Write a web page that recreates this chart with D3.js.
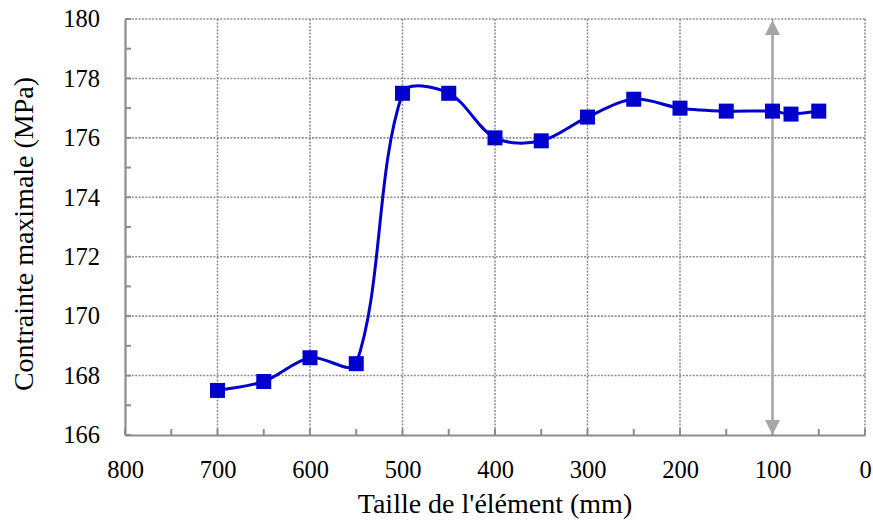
<!DOCTYPE html>
<html><head><meta charset="utf-8">
<script src="https://cdn.jsdelivr.net/npm/d3@7"></script>
<style>body{margin:0;background:#fff}svg{display:block}
svg text{font-family:"Liberation Serif","Times New Roman","DejaVu Serif",serif;}</style>
</head><body>
<svg id="c" width="873" height="522"></svg>
<script>
const sizes = [700, 650, 600, 550, 500, 450, 400, 350, 300, 250, 200, 150, 100, 80, 50];
const stress = [167.5, 167.8, 168.6, 168.4, 177.5, 177.5, 176.0, 175.9, 176.7, 177.3, 177.0, 176.9, 176.9, 176.8, 176.9];
const xTicks = [800, 700, 600, 500, 400, 300, 200, 100, 0];
const xMinor = [750, 650, 550, 450, 350, 250, 150, 50];
const yTicks = [166, 168, 170, 172, 174, 176, 178, 180];
const yMinor = [167, 169, 171, 173, 175, 177, 179];
const arrowX = 100;
const xTitle = "Taille de l'élément (mm)";
const yTitle = "Contrainte maximale (MPa)";

const svg = d3.select("#c");
const L = 125, R = 865, T = 19, B = 435;
const x = d3.scaleLinear().domain([800, 0]).range([L, R]);
const y = d3.scaleLinear().domain([166, 180]).range([B, T]);
const font = "'Liberation Serif','Times New Roman',serif";
const gridC = "#8f8f8f", axisC = "#8c8c8c";

// grid
svg.append("g").selectAll("line").data(yTicks.filter(d => d !== 166)).join("line")
  .attr("x1", L).attr("x2", R).attr("y1", d => y(d)).attr("y2", d => y(d))
  .attr("stroke", gridC).attr("stroke-width", 1.6).attr("stroke-dasharray", "2,1.4");
svg.append("g").selectAll("line").data(xTicks.filter(d => d !== 800)).join("line")
  .attr("x1", d => x(d)).attr("x2", d => x(d)).attr("y1", T).attr("y2", B)
  .attr("stroke", gridC).attr("stroke-width", 1.6).attr("stroke-dasharray", "2,1.4");

// axes
const ax = svg.append("g").attr("transform", `translate(0,${B})`)
  .call(d3.axisBottom(x).tickValues(xTicks).tickSize(0).tickPadding(26).tickFormat(d3.format("d")));
ax.attr("font-family", null);
ax.select(".domain").attr("stroke", axisC).attr("stroke-width", 2.2);
ax.selectAll("text").style("font-family", font).attr("font-size", 24.5).attr("fill", "#000");
const ay = svg.append("g").attr("transform", `translate(${L},0)`)
  .call(d3.axisLeft(y).tickValues(yTicks).tickSize(0).tickPadding(25).tickFormat(d3.format("d")));
ay.attr("font-family", null);
ay.select(".domain").attr("stroke", axisC).attr("stroke-width", 2.2);
ay.selectAll("text").style("font-family", font).attr("font-size", 24.5).attr("fill", "#000");

// inside ticks
svg.append("g").selectAll("line").data(xTicks.concat(xMinor)).join("line")
  .attr("x1", d => x(d)).attr("x2", d => x(d)).attr("y1", B).attr("y2", B - 6)
  .attr("stroke", axisC).attr("stroke-width", 2);
svg.append("g").selectAll("line").data(yTicks.concat(yMinor)).join("line")
  .attr("x1", L).attr("x2", L + 6).attr("y1", d => y(d)).attr("y2", d => y(d))
  .attr("stroke", axisC).attr("stroke-width", 2);

// arrow
const aC = "#a6a6a6";
const ax0 = x(arrowX), yTop = y(180) + 1, yBot = y(166);
svg.append("line").attr("x1", ax0).attr("x2", ax0).attr("y1", yTop + 12).attr("y2", yBot - 12)
  .attr("stroke", aC).attr("stroke-width", 2.5);
svg.append("path").attr("d", `M${ax0},${yTop} L${ax0 - 7.5},${yTop + 15} L${ax0 + 7.5},${yTop + 15} Z`).attr("fill", aC);
svg.append("path").attr("d", `M${ax0},${yBot} L${ax0 - 7.5},${yBot - 15} L${ax0 + 7.5},${yBot - 15} Z`).attr("fill", aC);

// smoothed line (spreadsheet-style smoothing)
const data = sizes.map((s, i) => [s, stress[i]]);
const pts = data.map(d => [x(d[0]), y(d[1])]);
function smoothPath(p) {
  const path = d3.path();
  path.moveTo(p[0][0], p[0][1]);
  const dist = (a, b) => Math.hypot(b[0] - a[0], b[1] - a[1]);
  for (let i = 0; i < p.length - 1; i++) {
    const p0 = p[Math.max(0, i - 1)], p1 = p[i], p2 = p[i + 1], p3 = p[Math.min(p.length - 1, i + 2)];
    const d01 = dist(p0, p1), d12 = dist(p1, p2), d23 = dist(p2, p3);
    const f = 1 / 3;
    const a = (d01 + d12) > 0 ? f * d12 / (d01 + d12) : 0;
    const b = (d12 + d23) > 0 ? f * d12 / (d12 + d23) : 0;
    const c1 = [p1[0] + (p2[0] - p0[0]) * a, p1[1] + (p2[1] - p0[1]) * a];
    const c2 = [p2[0] - (p3[0] - p1[0]) * b, p2[1] - (p3[1] - p1[1]) * b];
    path.bezierCurveTo(c1[0], c1[1], c2[0], c2[1], p2[0], p2[1]);
  }
  return path.toString();
}
const blue = "#0000cc";
svg.append("path").attr("d", smoothPath(pts))
  .attr("fill", "none").attr("stroke", blue).attr("stroke-width", 3);
const ms = 15;
svg.append("g").selectAll("rect").data(data).join("rect")
  .attr("x", d => x(d[0]) - ms / 2).attr("y", d => y(d[1]) - ms / 2)
  .attr("width", ms).attr("height", ms).attr("fill", blue);

// titles
svg.append("text").attr("x", (L + R) / 2).attr("y", 513).attr("text-anchor", "middle")
  .style("font-family", font).attr("font-size", 28).text(xTitle);
svg.append("text").attr("transform", `translate(33,${(T + B) / 2 + 7}) rotate(-90)`).attr("text-anchor", "middle")
  .style("font-family", font).attr("font-size", 28).text(yTitle);
</script>
</body></html>
